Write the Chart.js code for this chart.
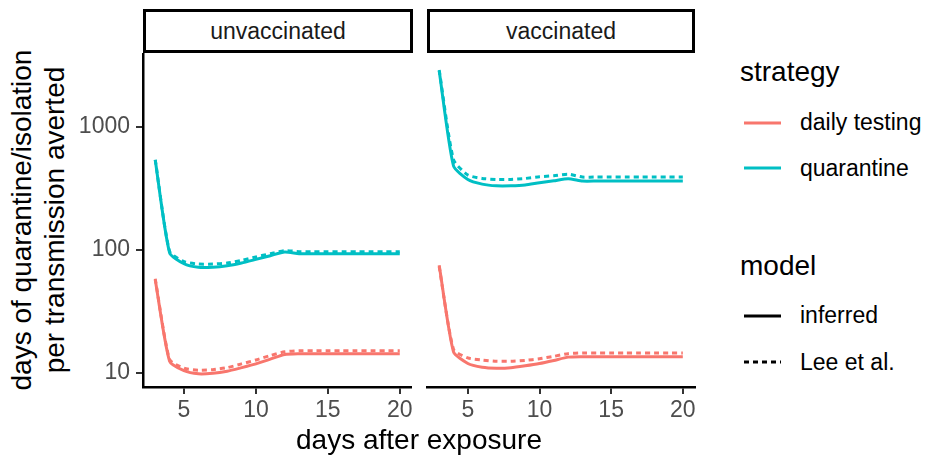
<!DOCTYPE html>
<html lang="en">
<head>
<meta charset="UTF-8">
<title>Quarantine days per transmission averted</title>
<script src="https://cdn.jsdelivr.net/npm/chart.js"></script>
<style>
    body {
        margin: 0;
        width: 930px;
        height: 461px;
        background: #fff;
        position: relative;
        overflow: hidden;
        font-family: "Liberation Sans", Arial, sans-serif;
    }
    .abs { position: absolute; }
    .strip {
        position: absolute;
        top: 9px;
        height: 38px;
        border: 3px solid #000;
        background: #fff;
        font-size: 23px;
        color: #1a1a1a;
        text-align: center;
        line-height: 38px;
    }
    #ytitle {
        left: 38px;
        top: 220px;
        width: 420px;
        transform: translate(-50%, -50%) rotate(-90deg);
        text-align: center;
        font-size: 28px;
        line-height: 33px;
        color: #000;
    }
    #xtitle {
        left: 419px;
        top: 424px;
        transform: translateX(-50%);
        font-size: 28px;
        white-space: nowrap;
        color: #000;
    }
    .ltitle { font-size: 28px; color: #000; left: 740px; }
    .llabel { font-size: 23px; color: #000; left: 800px; }
    .lkey { left: 744px; }
</style>
</head>
<body>
<div class="strip" style="left:143px;width:264px;">unvaccinated</div>
<div class="strip" style="left:427px;width:262px;">vaccinated</div>

<canvas id="unvac" class="abs" style="left:80px;top:53px;width:332px;height:380px;"></canvas>
<canvas id="vac" class="abs" style="left:415px;top:53px;width:300px;height:380px;"></canvas>

<div id="ytitle" class="abs">days of quarantine/isolation<br>per transmission averted</div>
<div id="xtitle" class="abs">days after exposure</div>

<!-- legends -->
<div class="abs ltitle" style="top:56px;">strategy</div>
<svg class="abs lkey" style="top:117px;" width="38" height="12"><line x1="0" y1="6" x2="37" y2="6" stroke="#F8766D" stroke-width="3"/></svg>
<div class="abs llabel" style="top:109px;">daily testing</div>
<svg class="abs lkey" style="top:162px;" width="38" height="12"><line x1="0" y1="6" x2="37" y2="6" stroke="#00BFC4" stroke-width="3"/></svg>
<div class="abs llabel" style="top:155px;">quarantine</div>

<div class="abs ltitle" style="top:250px;">model</div>
<svg class="abs lkey" style="top:310px;" width="38" height="12"><line x1="0" y1="6" x2="37" y2="6" stroke="#000" stroke-width="3"/></svg>
<div class="abs llabel" style="top:302px;">inferred</div>
<svg class="abs lkey" style="top:356px;" width="38" height="12"><line x1="0" y1="6" x2="37" y2="6" stroke="#000" stroke-width="3" stroke-dasharray="5 4"/></svg>
<div class="abs llabel" style="top:349px;">Lee et al.</div>

<script>
    const days = [3, 4, 5, 6, 7, 8, 9, 10, 11, 12, 13, 14, 15, 16, 17, 18, 19, 20];

    // unvaccinated
    const unvacTestInferred = [57, 12.4, 10.4, 9.8, 9.9, 10.3, 11.0, 11.8, 12.9, 14.1, 14.3, 14.3, 14.3, 14.3, 14.3, 14.3, 14.3, 14.3];
    const unvacTestLee = [58, 12.8, 10.9, 10.5, 10.6, 11.0, 11.8, 12.7, 13.8, 14.8, 15.1, 15.1, 15.1, 15.1, 15.1, 15.1, 15.1, 15.1];
    const unvacQuarInferred = [536, 94.5, 77, 72, 72, 74, 78, 83.5, 89.5, 96, 93, 93, 93, 93, 93, 93, 93, 93];
    const unvacQuarLee = [540, 97, 80, 76.5, 76.5, 78, 82, 87.5, 93, 98.5, 96.5, 96.5, 96.5, 96.5, 96.5, 96.5, 96.5, 96.5];

    // vaccinated
    const vacTestInferred = [75, 14.8, 11.9, 11.1, 10.9, 11.0, 11.4, 11.9, 12.6, 13.4, 13.5, 13.5, 13.5, 13.5, 13.5, 13.5, 13.5, 13.5];
    const vacTestLee = [73, 15.5, 13.2, 12.7, 12.4, 12.4, 12.6, 13.0, 13.6, 14.3, 14.5, 14.5, 14.5, 14.5, 14.5, 14.5, 14.5, 14.5];
    const vacQuarInferred = [2850, 480, 373, 342, 331, 331, 336, 351, 364, 378, 362, 362, 362, 362, 362, 362, 362, 362];
    const vacQuarLee = [2900, 540, 405, 380, 373, 373, 380, 392, 400, 412, 390, 390, 390, 390, 390, 390, 390, 390];

    const xTicks = [5, 10, 15, 20];
    const yTicks = [10, 100, 1000];

    const RED = '#F8766D';
    const TEAL = '#00BFC4';
    const tickFont = { family: 'Liberation Sans, Arial, sans-serif', size: 23 };

    function series(values, color, dashed) {
        return {
            data: days.map((d, i) => ({ x: d, y: values[i] })),
            borderColor: color,
            borderWidth: 3,
            borderDash: dashed ? [5, 4] : [],
            borderCapStyle: 'butt',
            pointRadius: 0,
            tension: 0.2,
            fill: false
        };
    }

    function makePanel(id, sets, showY) {
        return new Chart(document.getElementById(id), {
            type: 'line',
            data: { datasets: sets },
            options: {
                responsive: false,
                animation: false,
                events: [],
                layout: { padding: showY ? 0 : { left: 12, right: 20, top: 0, bottom: 0 } },
                plugins: { legend: { display: false }, tooltip: { enabled: false } },
                scales: {
                    x: {
                        type: 'linear',
                        min: 2.15,
                        max: 20.85,
                        afterBuildTicks: s => { s.ticks = xTicks.map(v => ({ value: v })); },
                        afterFit: s => { s.height = 46; s.paddingLeft = 0; s.paddingRight = 0; },
                        grid: { drawOnChartArea: false, drawTicks: true, tickLength: 7, tickColor: '#333', lineWidth: 2 },
                        border: { display: true, color: '#000', width: 2.5 },
                        ticks: { color: '#4d4d4d', font: tickFont, padding: 3, maxRotation: 0, autoSkip: false }
                    },
                    y: {
                        type: 'logarithmic',
                        display: showY,
                        min: 7.66,
                        max: 3980,
                        afterBuildTicks: s => { s.ticks = yTicks.map(v => ({ value: v })); },
                        afterFit: s => {
                            s.width = showY ? 63 : 0;
                            s.paddingTop = 0;
                            s.paddingBottom = 0;
                        },
                        grid: { drawOnChartArea: false, drawTicks: true, tickLength: 7, tickColor: '#333', lineWidth: 2 },
                        border: { display: true, color: '#000', width: 2.5 },
                        ticks: { color: '#4d4d4d', font: tickFont, padding: 6, callback: v => String(v) }
                    }
                }
            }
        });
    }

    makePanel('unvac', [
        series(unvacTestInferred, RED, false),
        series(unvacTestLee, RED, true),
        series(unvacQuarInferred, TEAL, false),
        series(unvacQuarLee, TEAL, true)
    ], true);

    makePanel('vac', [
        series(vacTestInferred, RED, false),
        series(vacTestLee, RED, true),
        series(vacQuarInferred, TEAL, false),
        series(vacQuarLee, TEAL, true)
    ], false);
</script>
</body>
</html>
